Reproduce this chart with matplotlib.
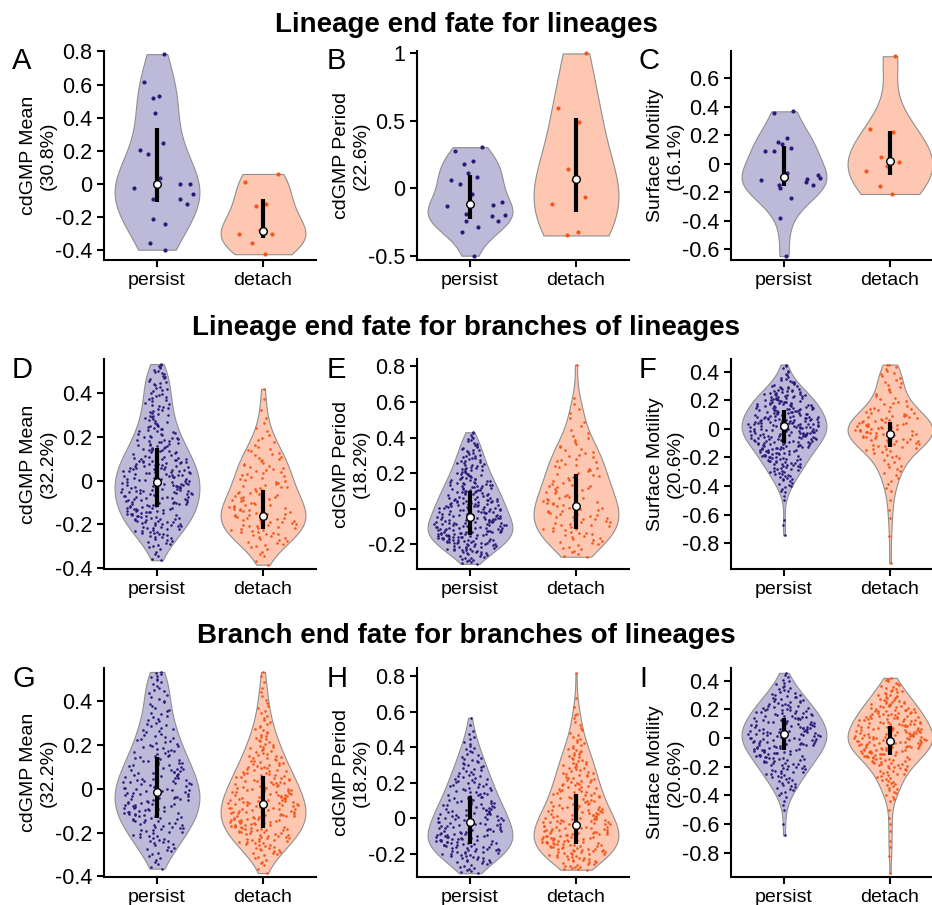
import numpy as np
import matplotlib
matplotlib.use("Agg")
import matplotlib.pyplot as plt
from matplotlib import mlab
from matplotlib.ticker import FuncFormatter

plt.rcParams['font.family'] = ['Liberation Sans', 'DejaVu Sans']
plt.rcParams['axes.unicode_minus'] = False

groups = ["persist", "detach"]
row_titles = ["Lineage end fate for lineages",
              "Lineage end fate for branches of lineages",
              "Branch end fate for branches of lineages"]
letters = list("ABCDEFGHI")
y_labels = ["cdGMP Mean\n(30.8%)", "cdGMP Period\n(22.6%)", "Surface Motility\n(16.1%)",
            "cdGMP Mean\n(32.2%)", "cdGMP Period\n(18.2%)", "Surface Motility\n(20.6%)",
            "cdGMP Mean\n(32.2%)", "cdGMP Period\n(18.2%)", "Surface Motility\n(20.6%)"]

# --- row 1: individual lineages (values read point by point) ---
a_persist = [0.784, 0.616, 0.53, 0.52, 0.428, 0.248, 0.204, 0.178, 0.038, 0.0,
             0.0, -0.024, -0.06, -0.09, -0.09, -0.12, -0.214, -0.244, -0.36, -0.398]
a_detach = [0.06, 0.014, -0.121, -0.135, -0.28, -0.30, -0.305, -0.357, -0.425]
b_persist = [0.305, 0.273, 0.20, 0.178, 0.113, 0.08, 0.063, 0.03, -0.043, -0.105,
             -0.123, -0.128, -0.198, -0.208, -0.19, -0.245, -0.245, -0.29, -0.328, -0.5]
b_detach = [1.0, 0.595, 0.495, 0.145, 0.065, -0.065, -0.12, -0.35, -0.328]
c_persist = [0.368, 0.354, 0.18, 0.155, 0.136, 0.113, 0.091, 0.091, -0.068, -0.082,
             -0.105, -0.117, -0.103, -0.131, -0.169, -0.152, -0.152, -0.239, -0.38, -0.65]
c_detach = [0.755, 0.244, 0.22, 0.045, -0.016, 0.014, -0.052, -0.157, -0.213]

# --- rows 2-3: counts per 0.05 bin (from start), value range, sparse tail points ---
d_persist_start, d_persist_range, d_persist_extra = -0.40, (-0.365, 0.534), []
d_persist_counts = [1, 5, 12, 20, 26, 29, 31, 31, 31, 28, 23, 19, 15, 12, 11, 10, 9, 9, 6]
d_detach_start, d_detach_range, d_detach_extra = -0.40, (-0.385, 0.42), []
d_detach_counts = [1, 5, 11, 17, 18, 17, 14, 12, 11, 10, 8, 5, 3, 2, 1, 1, 0]

e_persist_start, e_persist_range, e_persist_extra = -0.35, (-0.31, 0.43), []
e_persist_counts = [1, 13, 24, 35, 40, 36, 32, 30, 26, 23, 19, 15, 13, 10, 8, 3]
e_detach_start, e_detach_range, e_detach_extra = -0.30, (-0.27, 0.81), []
e_detach_counts = [2, 6, 9, 11, 12, 12, 11, 10, 9, 8, 8, 7, 6, 5, 3, 2, 2, 2, 1, 0, 0, 0]

f_persist_start, f_persist_range = -0.45, (-0.745, 0.45)
f_persist_extra = [-0.67, -0.64, -0.50, -0.47]
f_persist_counts = [4, 7, 10, 14, 17, 20, 24, 29, 32, 33, 31, 28, 25, 21, 15, 9, 5, 3]
f_detach_start, f_detach_range = -0.45, (-0.94, 0.45)
f_detach_extra = [-0.75, -0.62, -0.57, -0.50]
f_detach_counts = [2, 2, 3, 4, 4, 6, 10, 14, 16, 16, 12, 9, 6, 4, 4, 4, 4, 4]

g_persist_start, g_persist_range, g_persist_extra = -0.40, (-0.365, 0.535), []
g_persist_counts = [1, 5, 9, 13, 17, 20, 22, 22, 21, 18, 16, 13, 11, 9, 8, 6, 6, 6, 5]
g_detach_start, g_detach_range, g_detach_extra = -0.40, (-0.385, 0.535), []
g_detach_counts = [1, 7, 15, 22, 28, 30, 29, 26, 23, 19, 16, 12, 10, 7, 5, 4, 3, 2, 1]

h_persist_start, h_persist_range, h_persist_extra = -0.35, (-0.31, 0.565), []
h_persist_counts = [1, 9, 16, 23, 26, 24, 22, 20, 18, 15, 13, 12, 9, 8, 6, 4, 3, 1]
h_detach_start, h_detach_range, h_detach_extra = -0.30, (-0.29, 0.815), [0.58]
h_detach_counts = [11, 18, 25, 28, 26, 24, 21, 18, 16, 14, 13, 11, 10, 8, 6, 4, 3, 2, 1, 1, 0, 0]

i_persist_start, i_persist_range = -0.45, (-0.68, 0.455)
i_persist_extra = [-0.60, -0.50, -0.47]
i_persist_counts = [2, 5, 7, 9, 12, 14, 17, 19, 22, 22, 21, 19, 17, 14, 11, 8, 5, 3]
i_detach_start, i_detach_range = -0.45, (-0.945, 0.42)
i_detach_extra = [-0.82, -0.76, -0.72, -0.65, -0.60, -0.56, -0.50]
i_detach_counts = [3, 5, 6, 8, 10, 14, 19, 24, 27, 26, 24, 21, 19, 16, 12, 9, 6, 2]

# median, q1, q3 drawn in each violin (persist, detach)
box_stats = {
    "A": [(0.0, -0.107, 0.337), (-0.282, -0.327, -0.09)],
    "B": [(-0.115, -0.228, 0.098), (0.068, -0.178, 0.518)],
    "C": [(-0.094, -0.16, 0.124), (0.016, -0.077, 0.227)],
    "D": [(-0.006, -0.122, 0.148), (-0.16, -0.223, -0.043)],
    "E": [(-0.049, -0.146, 0.098), (0.013, -0.114, 0.197)],
    "F": [(0.021, -0.098, 0.13), (-0.035, -0.126, 0.051)],
    "G": [(-0.015, -0.134, 0.146), (-0.068, -0.181, 0.058)],
    "H": [(-0.023, -0.145, 0.122), (-0.041, -0.145, 0.137)],
    "I": [(0.026, -0.081, 0.142), (-0.023, -0.121, 0.086)],
}

y_ticks = [[-0.4, -0.2, 0, 0.2, 0.4, 0.6, 0.8], [-0.5, 0, 0.5, 1],
           [-0.6, -0.4, -0.2, 0, 0.2, 0.4, 0.6],
           [-0.4, -0.2, 0, 0.2, 0.4], [-0.2, 0, 0.2, 0.4, 0.6, 0.8],
           [-0.8, -0.6, -0.4, -0.2, 0, 0.2, 0.4],
           [-0.4, -0.2, 0, 0.2, 0.4], [-0.2, 0, 0.2, 0.4, 0.6, 0.8],
           [-0.8, -0.6, -0.4, -0.2, 0, 0.2, 0.4]]
y_lims = [(-0.46, 0.803), (-0.532, 1.018), (-0.677, 0.792),
          (-0.405, 0.557), (-0.339, 0.842), (-0.98, 0.489),
          (-0.403, 0.553), (-0.331, 0.845), (-0.97, 0.489)]


def expand(start, counts, rng, extra):
    vmin, vmax = rng
    vals = [vmin]
    for i, n in enumerate(counts):
        if n == 0:
            continue
        lo = max(start + 0.05 * i, vmin)
        hi = min(start + 0.05 * (i + 1), vmax)
        vals.extend(lo + (np.arange(n) + 0.5) / n * (hi - lo))
    vals.append(vmax)
    return np.sort(np.concatenate([vals, extra]))


def spread(n):
    # deterministic scatter offsets in [-1, 1] for the strip jitter
    i = np.arange(1, n + 1)
    return (np.sin(i * 12.9898) * 43758.5453) % 1 * 2 - 1


dense = {}
for key in "defghi":
    g = globals()
    dense[key.upper()] = [expand(g[f"{key}_{s}_start"], g[f"{key}_{s}_counts"],
                                 g[f"{key}_{s}_range"], g[f"{key}_{s}_extra"])
                          for s in groups]

panel_data = {"A": [np.array(a_persist), np.array(a_detach)],
              "B": [np.array(b_persist), np.array(b_detach)],
              "C": [np.array(c_persist), np.array(c_detach)]}
panel_data.update(dense)

fill_colors = ["#bdbad9", "#fdc7b2"]
dot_colors = ["#2b1b78", "#f3561a"]
edge_color = "#8f8f8f"
half_w = 0.4

fig = plt.figure(figsize=(9.32, 9.05), dpi=100)
W, H = 932, 905
col_left = [104, 417, 731]
row_top = [51, 359, 668]
row_bot = [260, 569, 877]
ax_w = 212

for r in range(3):
    fig.text(0.5, 1 - [31.7, 335, 643][r] / H, row_titles[r], ha="center",
             va="baseline", fontsize=20, fontweight="bold")
    for c in range(3):
        k = 3 * r + c
        L = letters[k]
        ax = fig.add_axes([col_left[c] / W, 1 - row_bot[r] / H, ax_w / W,
                           (row_bot[r] - row_top[r]) / H])
        data = panel_data[L]
        dot_s = 9 if r == 0 else 3.5
        parts = ax.violinplot(data, positions=[0, 1], widths=2 * half_w,
                              showextrema=False, points=200)
        for j, body in enumerate(parts["bodies"]):
            body.set_facecolor(fill_colors[j])
            body.set_edgecolor(edge_color)
            body.set_linewidth(0.8)
            body.set_alpha(1)
        for j, vals in enumerate(data):
            kde = mlab.GaussianKDE(vals, "scott")
            grid = np.linspace(vals.min(), vals.max(), 200)
            dmax = kde.evaluate(grid).max()
            width = half_w * kde.evaluate(vals) / dmax
            u = spread(len(vals))
            ax.scatter(j + 0.85 * u * width, vals, s=dot_s, color=dot_colors[j],
                       linewidths=0, zorder=2)
            med, q1, q3 = box_stats[L][j]
            ax.vlines(j, q1, q3, color="black", linewidth=3, zorder=3)
            ax.scatter([j], [med], s=30, facecolor="white", edgecolor="black",
                       linewidth=1, zorder=4)
        ax.set_xlim(-0.5, 1.5)
        ax.set_ylim(*y_lims[k])
        ax.set_xticks([0, 1])
        ax.set_xticklabels(groups)
        ax.set_yticks(y_ticks[k])
        ax.yaxis.set_major_formatter(
            FuncFormatter(lambda v, _: "0" if abs(v) < 1e-9 else "%g" % v))
        ax.tick_params(width=1.5, length=5, direction="out")
        ax.tick_params(axis="y", labelsize=15.5)
        ax.tick_params(axis="x", labelsize=14)
        for side in ["top", "right"]:
            ax.spines[side].set_visible(False)
        for side in ["left", "bottom"]:
            ax.spines[side].set_linewidth(1.5)
        ax.set_ylabel(y_labels[k], fontsize=14, linespacing=1.25)
        ax.yaxis.set_label_coords(-47 / ax_w, 0.5)
        fig.text([12, 327, 639][c] / W, 1 - [69, 378, 687][r] / H, L,
                 fontsize=21, va="baseline", ha="left")

fig.savefig("out.png", dpi=100)
